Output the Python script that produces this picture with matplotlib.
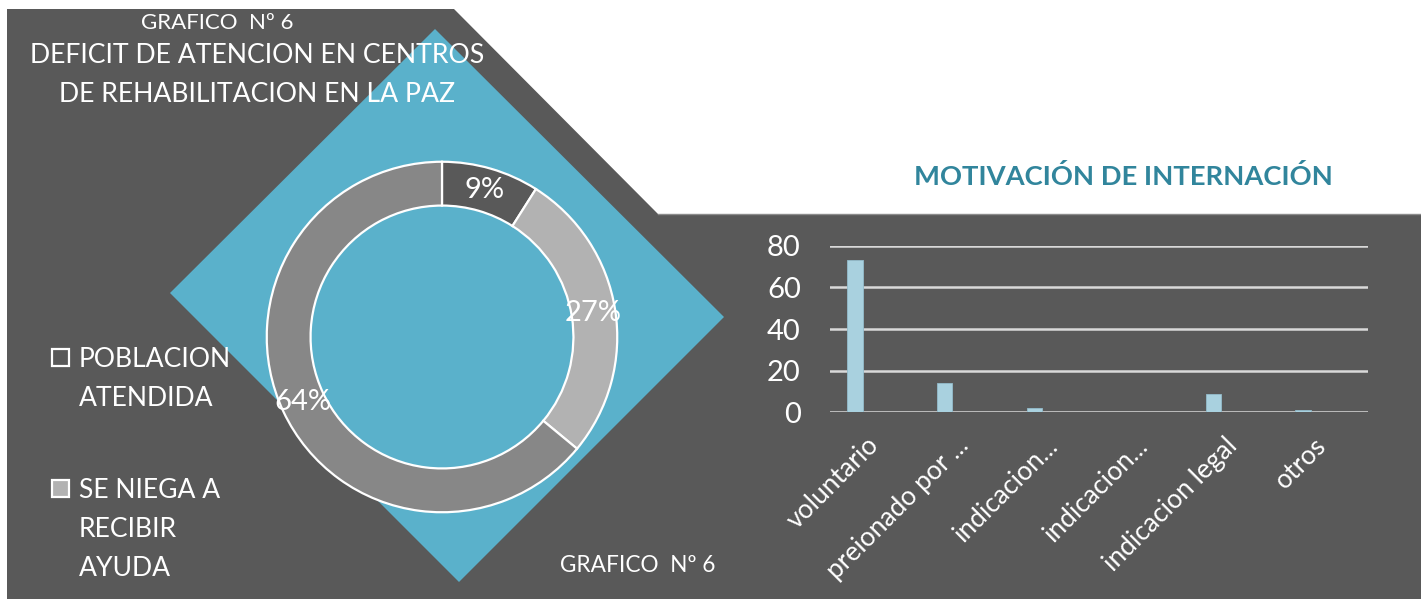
import matplotlib
matplotlib.use('Agg')
import matplotlib.pyplot as plt
from matplotlib.patches import Polygon, Rectangle

plt.rcParams['font.family'] = ['Lato', 'DejaVu Sans']

# Data: donut chart (grafico 6)
pie_values = [9, 27, 64]
pie_colors = ['#595959', '#b2b2b2', '#878787']
legend_labels = ['POBLACION\nATENDIDA', 'SE NIEGA A\nRECIBIR\nAYUDA']

# Data: bar chart (motivacion de internacion)
categories = ['voluntario', 'preionado por ...', 'indicacion...', 'indicacion...',
              'indicacion legal', 'otros']
counts = [73, 14, 2, 0, 9, 1]
yticks = [0, 20, 40, 60, 80]

W, H = 1421, 601
DARK = '#595959'
TEAL = '#5ab1cb'
WHITE = 'white'


def box(left, top, right, bottom):
    # pixel box -> figure fraction [l, b, w, h]
    return [left / W, (H - bottom) / H, (right - left) / W, (bottom - top) / H]


fig = plt.figure(figsize=(W / 100, H / 100), dpi=100, facecolor='white')

# background shapes
bg = fig.add_axes([0, 0, 1, 1])
bg.set_xlim(0, W)
bg.set_ylim(H, 0)
bg.axis('off')
bg.add_patch(Polygon([(7, 9), (454, 9), (658, 214), (W, 214), (W, 599), (7, 599)],
                     closed=True, facecolor=DARK, edgecolor='none'))
bg.plot([658, W], [214, 214], color='#8c8c8c', lw=1)
bg.add_patch(Polygon([(435, 29), (724, 317), (459, 582), (170, 293)],
                     closed=True, facecolor=TEAL, edgecolor='none'))

# titles
bg.text(217, 29, 'GRAFICO  Nº 6', color=WHITE, fontsize=16, ha='center', va='baseline')
bg.text(257, 63, 'DEFICIT DE ATENCION EN CENTROS', color=WHITE, fontsize=19.2,
        ha='center', va='baseline')
bg.text(257, 102, 'DE REHABILITACION EN LA PAZ', color=WHITE, fontsize=19.2,
        ha='center', va='baseline')
bg.text(560, 572, 'GRAFICO  Nº 6', color=WHITE, fontsize=16.3, ha='left', va='baseline')
bg.text(1123, 185, 'MOTIVACIÓN DE INTERNACIÓN', color='#31859c', fontsize=19.7,
        fontweight='bold', ha='center', va='baseline')

# donut
pax = fig.add_axes(box(265, 160, 619, 514))
pax.set_facecolor('none')
wedges, _, autotexts = pax.pie(
    pie_values, colors=pie_colors, startangle=90, counterclock=False,
    wedgeprops=dict(width=0.25, edgecolor=WHITE, linewidth=1.6),
    autopct=lambda p: f'{p:.0f}%', pctdistance=0.875,
    textprops=dict(color=WHITE, fontsize=21))
pax.set_xlim(-1.01, 1.01)
pax.set_ylim(-1.01, 1.01)

# legend (first two entries only, as in the original)
for k, (label, wedge) in enumerate(zip(legend_labels, wedges)):
    y0 = 367 + k * 131
    bg.add_patch(Rectangle((52, y0 - 18), 17, 17, facecolor=wedge.get_facecolor(),
                           edgecolor=WHITE, linewidth=1.6))
    for j, line in enumerate(label.split('\n')):
        bg.text(79, y0 + j * 39, line, color=WHITE, fontsize=19.1, va='baseline')

# bar chart
bax = fig.add_axes(box(830, 245.7, 1367.5, 412.3))
bax.set_facecolor('none')
xpos = list(range(len(categories)))
bax.bar([x - 0.22 for x in xpos], counts, width=0.17, color='#a9d1df',
        edgecolor='#93bccb', linewidth=0.6, zorder=3)
bax.set_xlim(-0.5, len(categories) - 0.5)
bax.set_ylim(0, 80)
bax.set_yticks(yticks)
bax.set_xticks(xpos)
bax.set_xticklabels(categories, rotation=45, ha='right', va='center',
                    rotation_mode='anchor', fontsize=19, color=WHITE)
bax.tick_params(axis='y', colors=WHITE, labelsize=21, length=0, pad=21)
bax.tick_params(axis='x', length=0, pad=21)
bax.yaxis.grid(True, color='#d9d9d9', linewidth=1.8, zorder=1)
bax.set_axisbelow(True)
for s in bax.spines.values():
    s.set_visible(False)

fig.savefig('out.png', dpi=100, facecolor='white')
